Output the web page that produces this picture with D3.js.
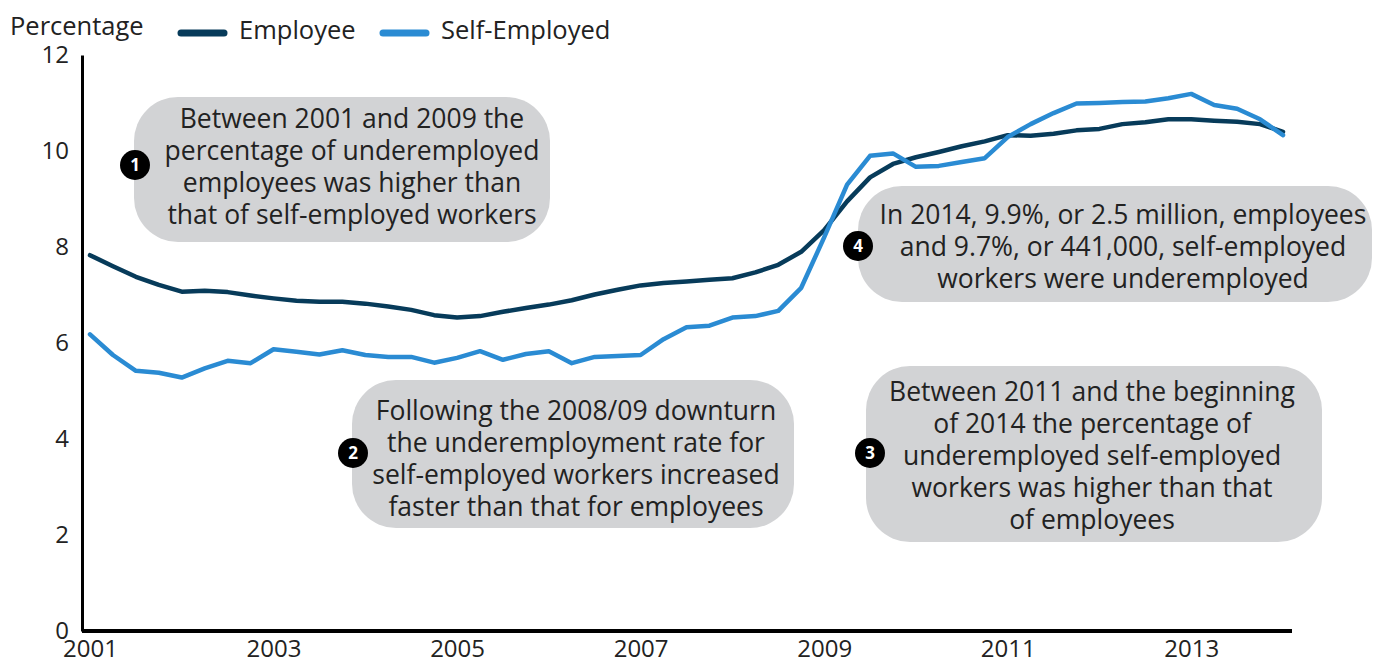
<!DOCTYPE html>
<html>
<head>
<meta charset="utf-8">
<script src="https://cdn.jsdelivr.net/npm/d3@7"></script>
<style>
  html, body { margin: 0; padding: 0; background: #fff; }
  svg { display: block; font-family: "Open Sans", "Noto Sans", sans-serif; }
</style>
</head>
<body>
<svg id="chart" width="1375" height="665"></svg>
<script>
// Quarterly underemployment rate (%), Q1 2001 to Q1 2014
const firstYear = 2001;
const quarterCount = 53;
const employee = [
  7.83, 7.60, 7.38, 7.21, 7.07, 7.09, 7.06, 6.99, 6.93, 6.88,
  6.86, 6.86, 6.82, 6.76, 6.69, 6.58, 6.53, 6.56, 6.65, 6.73,
  6.80, 6.89, 7.01, 7.11, 7.20, 7.25, 7.28, 7.32, 7.35, 7.47,
  7.63, 7.90, 8.35, 8.95, 9.45, 9.73, 9.87, 9.98, 10.10, 10.20,
  10.33, 10.32, 10.36, 10.43, 10.46, 10.56, 10.60, 10.66, 10.66, 10.63,
  10.61, 10.56, 10.40
];
const selfEmployed = [
  6.18, 5.75, 5.42, 5.38, 5.28, 5.47, 5.63, 5.58, 5.87, 5.82,
  5.76, 5.85, 5.75, 5.71, 5.71, 5.59, 5.69, 5.83, 5.65, 5.77,
  5.83, 5.58, 5.71, 5.73, 5.75, 6.08, 6.33, 6.36, 6.53, 6.56,
  6.67, 7.15, 8.20, 9.30, 9.90, 9.95, 9.67, 9.69, 9.77, 9.85,
  10.29, 10.56, 10.79, 10.99, 11.00, 11.02, 11.03, 11.10, 11.19, 10.96,
  10.88, 10.66, 10.33
];
const yTicks = [0, 2, 4, 6, 8, 10, 12];
const xTickYears = [2001, 2003, 2005, 2007, 2009, 2011, 2013];
const seriesNames = ["Employee", "Self-Employed"];
const seriesColors = ["#073b5a", "#2a8bd3"];

// Callout boxes: number, text lines, box and marker placement
const notes = [
  { n: 1, lines: ["Between 2001 and 2009 the", "percentage of underemployed", "employees was higher than", "that of self-employed workers"],
    box: [134, 97, 416, 145], cx: 352, cy: 167, marker: [135, 165] },
  { n: 2, lines: ["Following the 2008/09 downturn", "the underemployment rate for", "self-employed workers increased", "faster than that for employees"],
    box: [352, 380, 442, 148], cx: 576, cy: 459, marker: [353, 453] },
  { n: 3, lines: ["Between 2011 and the beginning", "of 2014 the percentage of", "underemployed self-employed", "workers was higher than that", "of employees"],
    box: [866, 366, 456, 176], cx: 1092, cy: 456, marker: [870, 453] },
  { n: 4, lines: ["In 2014, 9.9%, or 2.5 million, employees", "and 9.7%, or 441,000, self-employed", "workers were underemployed"],
    box: [858, 186, 514, 116], cx: 1123, cy: 247, marker: [858, 246] }
];

const svg = d3.select("#chart");

const x = d3.scaleLinear().domain([firstYear, firstYear + (quarterCount - 1) / 4]).range([90, 1283]);
const y = d3.scaleLinear().domain([0, 12]).range([631, 55]);

const quarters = d3.range(quarterCount).map(i => firstYear + i / 4);
const series = [employee, selfEmployed].map((vals, k) => ({
  name: seriesNames[k],
  color: seriesColors[k],
  points: vals.map((v, i) => [quarters[i], v])
}));

// Callouts sit behind the lines
const noteG = svg.append("g");
notes.forEach(nt => {
  const [bx, by, bw, bh] = nt.box;
  noteG.append("rect")
    .attr("x", bx).attr("y", by).attr("width", bw).attr("height", bh)
    .attr("rx", 44).attr("ry", 44)
    .attr("fill", "#d2d3d5");
  const lh = 32;
  const top = nt.cy - (nt.lines.length - 1) * lh / 2;
  const t = noteG.append("text")
    .attr("text-anchor", "middle")
    .attr("font-size", 26.5)
    .attr("fill", "#222");
  nt.lines.forEach((ln, i) => {
    t.append("tspan").attr("x", nt.cx).attr("y", top + i * lh).attr("dy", "0.35em").text(ln);
  });
  noteG.append("circle")
    .attr("cx", nt.marker[0]).attr("cy", nt.marker[1]).attr("r", 15)
    .attr("fill", "#000");
  noteG.append("text")
    .attr("x", nt.marker[0]).attr("y", nt.marker[1]).attr("dy", "0.36em")
    .attr("text-anchor", "middle")
    .attr("font-size", 17).attr("font-weight", 700)
    .attr("fill", "#fff")
    .text(nt.n);
});

// Axes
const yAxis = svg.append("g")
  .attr("transform", `translate(82,0)`)
  .call(d3.axisLeft(y).tickValues(yTicks).tickSize(0).tickSizeOuter(0).tickPadding(13));
yAxis.select(".domain").attr("stroke", "#000").attr("stroke-width", 3);
yAxis.selectAll("text").attr("font-size", 24).attr("fill", "#222")
  .attr("font-family", '"Open Sans", sans-serif');

const xAxis = svg.append("g")
  .attr("transform", `translate(0,${y(0)})`)
  .call(d3.axisBottom(x).tickValues(xTickYears).tickFormat(d3.format("d")).tickSize(0).tickPadding(9));
xAxis.select(".domain").remove();
xAxis.selectAll("text").attr("font-size", 24).attr("fill", "#222")
  .attr("font-family", '"Open Sans", sans-serif');
xAxis.append("line")
  .attr("x1", x.range()[0] - 8).attr("x2", x.range()[1] + 9)
  .attr("y1", 0).attr("y2", 0)
  .attr("stroke", "#000").attr("stroke-width", 4);

// Lines
const line = d3.line().x(d => x(d[0])).y(d => y(d[1]));
svg.append("g").selectAll("path")
  .data(series)
  .join("path")
  .attr("d", d => line(d.points))
  .attr("fill", "none")
  .attr("stroke", d => d.color)
  .attr("stroke-width", 4.5)
  .attr("stroke-linejoin", "round")
  .attr("stroke-linecap", "round");

// Header: unit label and legend
svg.append("text")
  .attr("x", 10).attr("y", 26).attr("dy", "0.35em")
  .attr("font-size", 25.5).attr("fill", "#222")
  .text("Percentage");

const legendX = [178, 380];
const legend = svg.append("g").selectAll("g")
  .data(series)
  .join("g")
  .attr("transform", (d, i) => `translate(${legendX[i]},30)`);
legend.append("line")
  .attr("x1", 3).attr("x2", 46).attr("y1", 3).attr("y2", 3)
  .attr("stroke", d => d.color).attr("stroke-width", 7).attr("stroke-linecap", "round");
legend.append("text")
  .attr("x", 61).attr("y", 0).attr("dy", "0.35em")
  .attr("font-size", 25.5).attr("fill", "#222")
  .text(d => d.name);
</script>
</body>
</html>
